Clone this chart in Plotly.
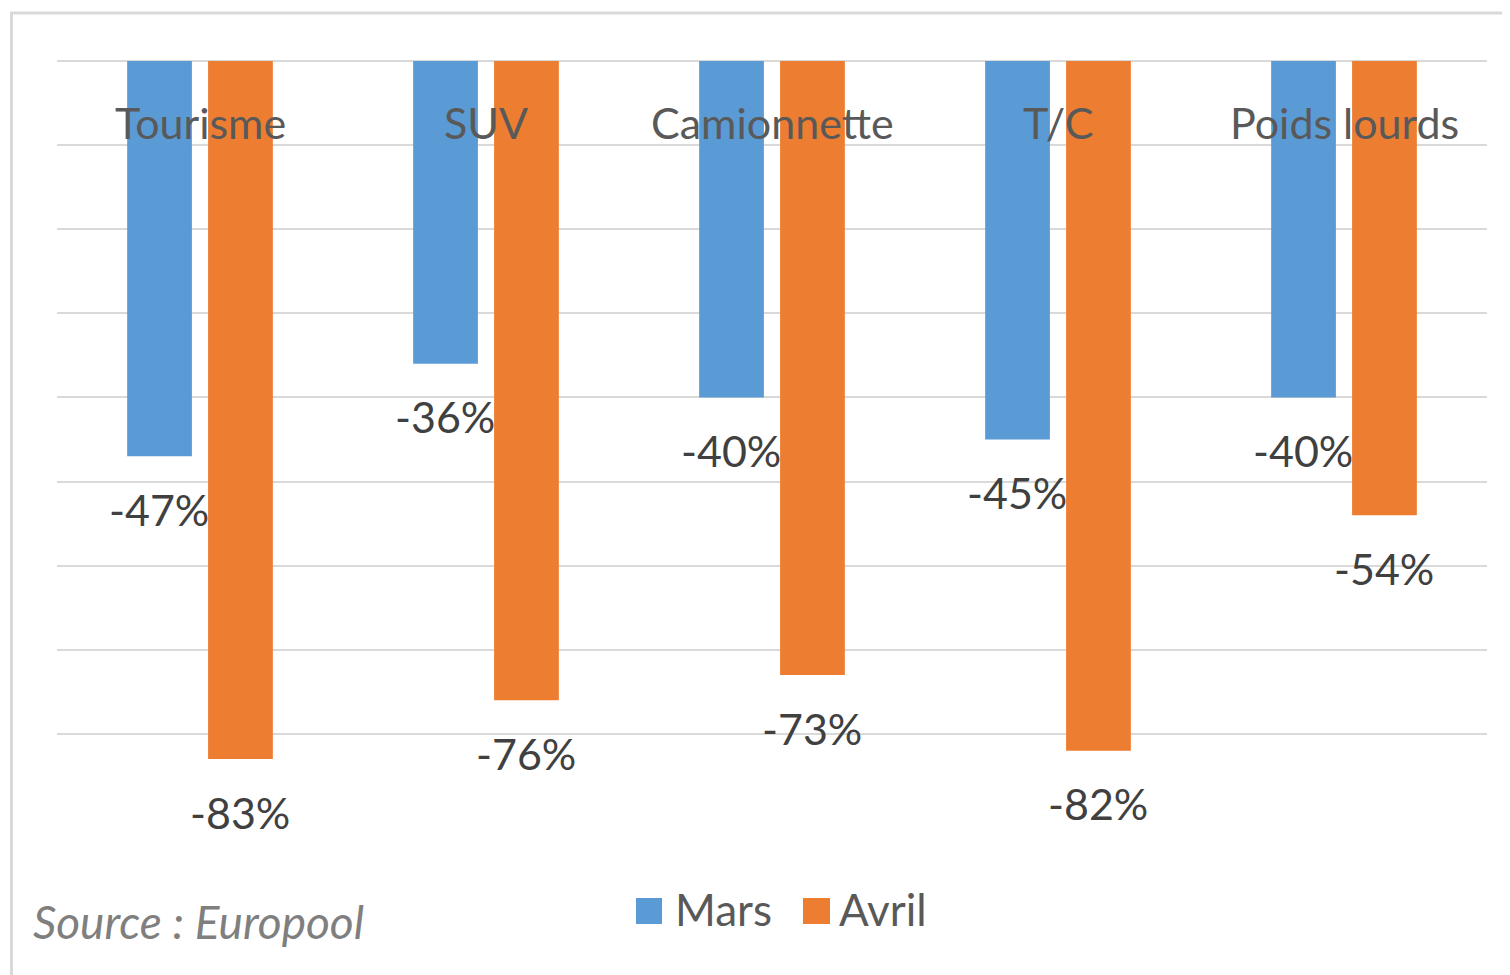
import plotly.graph_objects as go

categories = ["Tourisme", "SUV", "Camionnette", "T/C", "Poids lourds"]
mars = [-0.47, -0.36, -0.40, -0.45, -0.40]
avril = [-0.83, -0.76, -0.73, -0.82, -0.54]
series_names = ["Mars", "Avril"]
source_text = "Source : Europool"

BLUE = "#5b9bd5"
ORANGE = "#ed7d31"
FONT = "Lato"

OFF = 8  # page body margin
W, H = 1510 - OFF, 975 - OFF
L, R, T, B = 57 - OFF, 23, 61 - OFF, 157
PW, PH = W - L - R, H - T - B


def px(x):
    return (x - OFF - L) / PW


def py(y):
    return (H - B - (y - OFF)) / PH


fig = go.Figure()
fig.add_bar(x=categories, y=mars, name=series_names[0], marker_color=BLUE,
            marker_line_width=0, showlegend=False)
fig.add_bar(x=categories, y=avril, name=series_names[1], marker_color=ORANGE,
            marker_line_width=0, showlegend=False)

annotations = []
# category labels at top
for c in categories:
    annotations.append(dict(x=c, y=-0.073, xref="x", yref="y", text=c, showarrow=False,
                            font=dict(family=FONT, size=43, color="#595959"),
                            xanchor="center", yanchor="middle"))
# data labels
for vals, shift in ((mars, -41), (avril, 40)):
    for c, v in zip(categories, vals):
        annotations.append(dict(x=c, y=v, xref="x", yref="y", text=f"{round(v*100)}%",
                                showarrow=False, xshift=shift, yshift=-53,
                                font=dict(family=FONT, size=43, color="#404040"),
                                xanchor="center", yanchor="middle"))
# legend texts
annotations.append(dict(x=px(673), y=py(909), xref="paper", yref="paper", text=series_names[0],
                        showarrow=False, xanchor="left", yanchor="middle",
                        font=dict(family=FONT, size=44, color="#595959")))
annotations.append(dict(x=px(837), y=py(909), xref="paper", yref="paper", text=series_names[1],
                        showarrow=False, xanchor="left", yanchor="middle",
                        font=dict(family=FONT, size=44, color="#595959")))
# source
annotations.append(dict(x=px(31), y=py(922), xref="paper", yref="paper",
                        text=f"<i>{source_text}</i>", showarrow=False,
                        xanchor="left", yanchor="middle",
                        font=dict(family=FONT, size=46, color="#7f7f7f")))

shapes = [
    dict(type="rect", xref="paper", yref="paper", x0=px(636), x1=px(662), y0=py(924), y1=py(898),
         fillcolor=BLUE, line_width=0),
    dict(type="rect", xref="paper", yref="paper", x0=px(803), x1=px(830), y0=py(924), y1=py(898),
         fillcolor=ORANGE, line_width=0),
    dict(type="line", xref="paper", yref="paper", x0=px(11.5), x1=px(11.5), y0=py(13), y1=py(990),
         line=dict(color="#d9d9d9", width=3)),
    dict(type="line", xref="paper", yref="paper", x0=px(10), x1=px(1530), y0=py(13), y1=py(13),
         line=dict(color="#d9d9d9", width=3)),
]

fig.update_layout(
    width=W, height=H,
    margin=dict(l=L, r=R, t=T, b=B),
    paper_bgcolor="white", plot_bgcolor="white",
    barmode="group", bargap=0.434, bargroupgap=0.2,
    annotations=annotations, shapes=shapes,
    font=dict(family=FONT),
    xaxis=dict(showticklabels=False, showgrid=False, zeroline=False, showline=False,
               ticks=""),
    yaxis=dict(range=[-0.9, 0], dtick=0.1, showticklabels=False, showgrid=True,
               gridcolor="#d9d9d9", gridwidth=2, zeroline=True, zerolinecolor="#d9d9d9",
               zerolinewidth=2, showline=False, ticks=""),
)

fig.write_html("out.html")
